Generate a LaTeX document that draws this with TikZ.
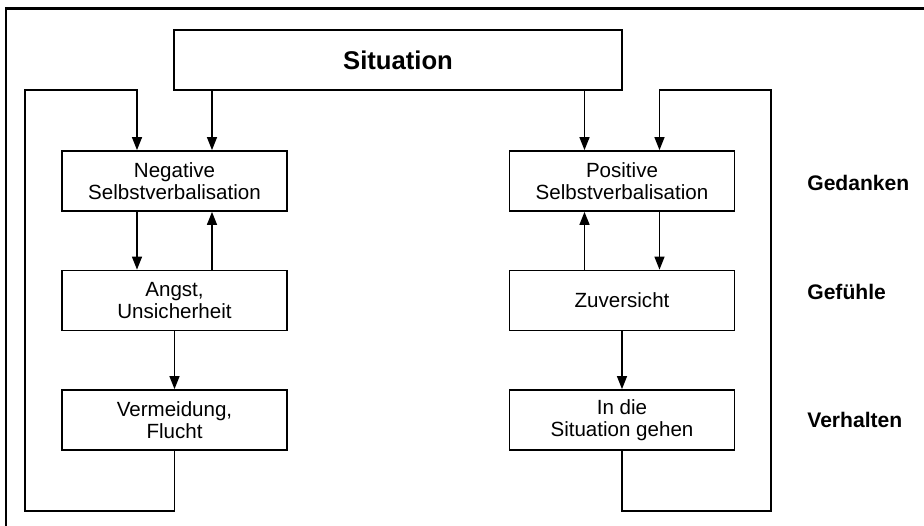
\documentclass[tikz,border=0pt]{standalone}
\usepackage{fontspec}
\setmainfont{Liberation Sans}
\usetikzlibrary{arrows.meta}

\begin{document}
\begin{tikzpicture}[x=0.02cm, y=-0.02cm,
	box/.style={draw, line width=1pt, minimum width=4.5cm, minimum height=1.2cm, align=center, inner sep=0pt, font=\fontsize{11.7}{12.8}\selectfont},
	level/.style={anchor=west, inner sep=0pt, font=\fontsize{12}{14}\selectfont\bfseries},
	arr/.style={line width=0.8pt, -{Triangle[length=2.6mm, width=2mm]}},
	loop/.style={line width=0.8pt}]
	\useasboundingbox (0,0) rectangle (924,526);
	\draw[line width=1.7pt] (6,526) -- (6,8.5) -- (924,8.5);

	\node[box, minimum width=8.96cm, font=\fontsize{14.6}{16}\selectfont\bfseries] (sit) at (398,60) {Situation};

	\node[box] (neg)   at (174.5,181) {Negative\\Selbstverbalisation};
	\node[box] (angst) at (174.5,300.5) {Angst,\\Unsicherheit};
	\node[box] (verm)  at (174.5,420) {Vermeidung,\\Flucht};

	\node[box] (pos)   at (622,181) {Positive\\Selbstverbalisation};
	\node[box] (zuv)   at (622,300.5) {Zuversicht};
	\node[box] (indie) at (622,420) {In die\\Situation gehen};

	\node[level] (ged) at (807,183) {Gedanken};
	\node[level] (gef) at (807,292) {Gefühle};
	\node[level] (verh) at (807,420) {Verhalten};

	\coordinate (negL) at ([xshift=-0.75cm]neg.north);
	\coordinate (negR) at ([xshift=0.75cm]neg.north);
	\coordinate (posL) at ([xshift=-0.75cm]pos.north);
	\coordinate (posR) at ([xshift=0.75cm]pos.north);
	\coordinate (lbot) at (25,511);
	\coordinate (ltop) at (25,90);
	\coordinate (rbot) at (771,511);
	\coordinate (rtop) at (771,90);

	\draw[arr] (sit.south -| negR) -- (negR);
	\draw[arr] (sit.south -| posL) -- (posL);

	\draw[arr] ([xshift=-0.75cm]neg.south) -- ([xshift=-0.75cm]angst.north);
	\draw[arr] ([xshift=0.75cm]angst.north) -- ([xshift=0.75cm]neg.south);
	\draw[arr] (angst.south) -- (verm.north);

	\draw[arr] ([xshift=-0.75cm]zuv.north) -- ([xshift=-0.75cm]pos.south);
	\draw[arr] ([xshift=0.75cm]pos.south) -- ([xshift=0.75cm]zuv.north);
	\draw[arr] (zuv.south) -- (indie.north);

	\draw[arr] (verm.south) |- (lbot) -- (ltop) -| (negL);
	\draw[arr] (indie.south) |- (rbot) -- (rtop) -| (posR);
\end{tikzpicture}
\end{document}
